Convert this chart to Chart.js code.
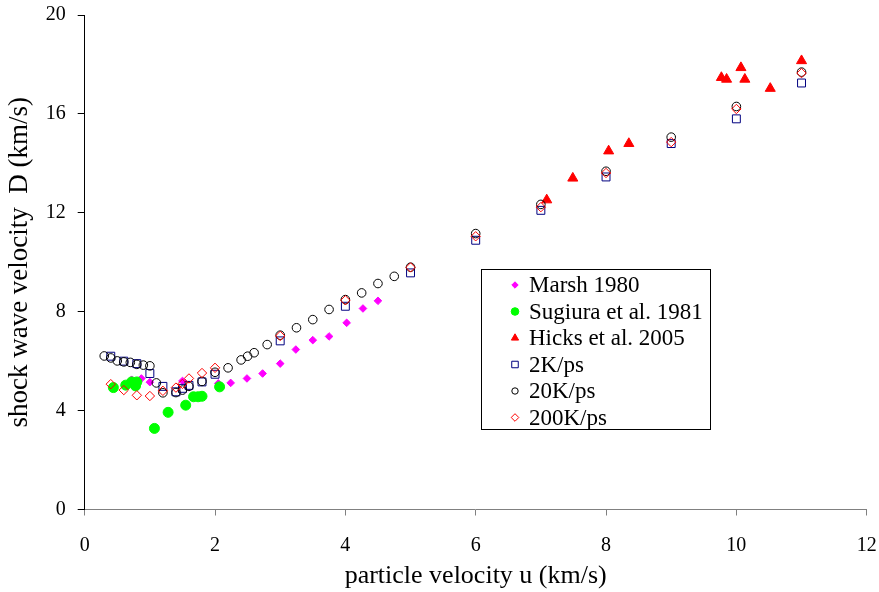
<!DOCTYPE html>
<html><head><meta charset="utf-8">
<script src="https://cdn.jsdelivr.net/npm/chart.js@4/dist/chart.umd.min.js"></script>
<style>html,body{margin:0;padding:0;background:#fff;}#wrap{width:879px;height:592px;position:relative;}</style>
</head><body><div id="wrap"><canvas id="c"></canvas></div>
<script>
const xTicks = [0, 2, 4, 6, 8, 10, 12];
const yTicks = [0, 4, 8, 12, 16, 20];
const xTitle = "particle velocity u (km/s)";
const yTitle = "shock wave velocity  D (km/s)";
const seriesNames = ["Marsh 1980", "Sugiura et al. 1981", "Hicks et al. 2005", "2K/ps", "20K/ps", "200K/ps"];

const marshU = [0.72, 0.87, 1.0, 1.5, 2.05, 2.24, 2.49, 2.73, 3.0, 3.24, 3.5, 3.75, 4.02, 4.27, 4.5];
const marshD = [5.25, 5.3, 5.15, 5.2, 5.1, 5.12, 5.3, 5.5, 5.9, 6.47, 6.85, 7.0, 7.55, 8.13, 8.44];

const sugiuraU = [0.44, 0.63, 0.72, 0.8, 0.78, 1.07, 1.28, 1.55, 1.67, 1.74, 1.8, 2.07];
const sugiuraD = [4.93, 5.03, 5.16, 5.16, 5.0, 3.28, 3.93, 4.22, 4.56, 4.56, 4.58, 4.96];

const hicksU = [7.09, 7.49, 8.04, 8.35, 9.77, 9.85, 10.07, 10.13, 10.52, 11.0];
const hicksD = [12.52, 13.4, 14.5, 14.8, 17.47, 17.4, 17.87, 17.4, 17.03, 18.15];

const k2U = [0.4, 0.6, 0.8, 1.0, 1.2, 1.4, 1.5, 1.6, 1.8, 2.0, 3, 4, 5, 6, 7, 8, 9, 10, 11];
const k2D = [6.2, 6.0, 5.9, 5.5, 4.98, 4.76, 4.9, 5.02, 5.16, 5.47, 6.82, 8.22, 9.57, 10.89, 12.1, 13.45, 14.8, 15.8, 17.25];

const k20U = [0.3, 0.4, 0.5, 0.6, 0.7, 0.8, 0.9, 1.0, 1.1, 1.2, 1.4, 1.5, 1.6, 1.8, 2.0, 2.2, 2.4, 2.5, 2.6, 2.8, 3.0, 3.25, 3.5, 3.75, 4.0, 4.25, 4.5, 4.75, 5, 6, 7, 8, 9, 10, 11];
const k20D = [6.21, 6.13, 6.01, 5.97, 5.95, 5.87, 5.84, 5.81, 5.12, 4.72, 4.73, 4.83, 4.98, 5.18, 5.55, 5.73, 6.05, 6.2, 6.34, 6.67, 7.05, 7.35, 7.68, 8.09, 8.49, 8.76, 9.14, 9.43, 9.8, 11.16, 12.34, 13.68, 15.06, 16.3, 17.69];

const k200U = [0.4, 0.6, 0.8, 1.0, 1.2, 1.4, 1.5, 1.6, 1.8, 2.0, 3, 4, 5, 6, 7, 8, 9, 10, 11];
const k200D = [5.07, 4.83, 4.62, 4.59, 4.8, 4.93, 5.08, 5.3, 5.52, 5.73, 7.02, 8.46, 9.79, 11.05, 12.23, 13.61, 14.86, 16.2, 17.65];

function pts(u, d) { return u.map((v, i) => ({ x: v, y: d[i] })); }

const FONT = "'Liberation Serif', 'Times New Roman', serif";

const styles = [
  { pointStyle: 'rectRot', radius: 3.8, bg: '#FF00FF', border: '#FF00FF', bw: 1, lr: 3.2 },
  { pointStyle: 'circle', radius: 5, bg: '#00FF00', border: '#00FF00', bw: 1, lr: 3.8 },
  { pointStyle: 'triangle', radius: 5.8, bg: '#FF0000', border: '#FF0000', bw: 1, lr: 4.2 },
  { pointStyle: 'rect', radius: 5.6, bg: 'rgba(0,0,0,0)', border: '#000080', bw: 1, lr: 4.6 },
  { pointStyle: 'circle', radius: 4.3, bg: 'rgba(0,0,0,0)', border: '#000000', bw: 1, lr: 3.2 },
  { pointStyle: 'rectRot', radius: 4.7, bg: 'rgba(0,0,0,0)', border: '#FF0000', bw: 1, lr: 3.8 }
];
const seriesData = [pts(marshU, marshD), pts(sugiuraU, sugiuraD), pts(hicksU, hicksD), pts(k2U, k2D), pts(k20U, k20D), pts(k200U, k200D)];

const datasets = seriesNames.map((n, i) => ({
  label: n,
  data: seriesData[i],
  showLine: false,
  pointStyle: styles[i].pointStyle,
  pointRadius: styles[i].radius,
  pointHoverRadius: styles[i].radius,
  pointBackgroundColor: styles[i].bg,
  pointBorderColor: styles[i].border,
  pointBorderWidth: styles[i].bw,
  backgroundColor: styles[i].bg,
  borderColor: styles[i].border,
  order: seriesNames.length - i
}));

const boxLegend = {
  id: 'boxLegend',
  afterDraw(chart) {
    const ctx = chart.ctx;
    const bx = 481.5, by = 269.5, bw = 229, bh = 160;
    ctx.save();
    ctx.fillStyle = '#ffffff';
    ctx.fillRect(bx, by, bw, bh);
    ctx.strokeStyle = '#000000';
    ctx.lineWidth = 1;
    ctx.strokeRect(bx, by, bw, bh);
    ctx.font = "23px " + FONT;
    ctx.textBaseline = 'middle';
    ctx.textAlign = 'left';
    const rowH = 26.5, y0 = 285;
    chart.data.datasets.forEach((ds, i) => {
      const y = y0 + i * rowH;
      const s = styles[i];
      ctx.fillStyle = s.bg;
      ctx.strokeStyle = s.border;
      ctx.lineWidth = s.bw;
      Chart.helpers.drawPoint(ctx, { pointStyle: s.pointStyle, radius: s.lr, rotation: 0, borderWidth: s.bw }, 515, y);
      ctx.fillStyle = '#000000';
      ctx.fillText(ds.label, 529, y + 1);
    });
    ctx.restore();
  }
};

new Chart(document.getElementById('c'), {
  type: 'scatter',
  data: { datasets },
  options: {
    responsive: true,
    maintainAspectRatio: false,
    animation: false,
    events: [],
    layout: { padding: { top: 15, right: 12.3, bottom: 0, left: 0 } },
    plugins: { legend: { display: false }, tooltip: { enabled: false } },
    scales: {
      x: {
        type: 'linear', min: 0, max: 12,
        afterBuildTicks: (s) => { s.ticks = xTicks.map(v => ({ value: v })); },
        afterFit: (s) => { s.height = 592 - 509.5; s.paddingLeft = 0; s.paddingRight = 0; s.paddingTop = 0; s.paddingBottom = 0; },
        ticks: { color: '#000', font: { family: FONT, size: 20 }, padding: 18, maxRotation: 0 },
        grid: { drawOnChartArea: false, tickLength: 6, color: '#808080' },
        border: { color: '#808080', width: 1 },
        title: { display: true, text: xTitle, color: '#000', font: { family: FONT, size: 26 }, padding: { top: 0, bottom: 0 } }
      },
      y: {
        type: 'linear', min: 0, max: 20,
        afterBuildTicks: (s) => { s.ticks = yTicks.map(v => ({ value: v })); },
        afterFit: (s) => { s.width = 84.7; s.paddingLeft = 0; s.paddingRight = 0; s.paddingTop = 0; s.paddingBottom = 0; },
        ticks: { color: '#000', font: { family: FONT, size: 20 }, padding: 12 },
        grid: { drawOnChartArea: false, tickLength: 7, color: '#000' },
        border: { color: '#000', width: 1 },
        title: { display: true, text: yTitle, color: '#000', font: { family: FONT, size: 27 }, padding: { top: 4, bottom: 0 } }
      }
    }
  },
  plugins: [boxLegend]
});
</script>
</body></html>
